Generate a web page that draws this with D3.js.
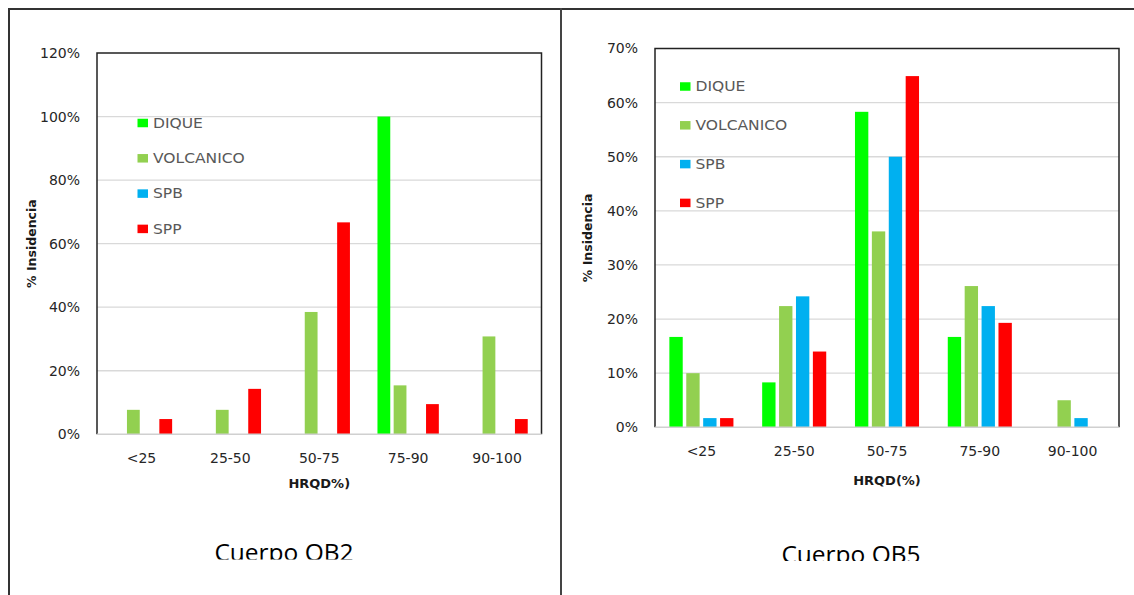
<!DOCTYPE html>
<html>
<head>
<meta charset="utf-8">
<script src="https://cdn.jsdelivr.net/npm/d3@7"></script>
<style>
  html, body { margin: 0; padding: 0; background: #fff; }
  svg { display: block; }
</style>
</head>
<body>
<svg id="chart" width="1134" height="595"></svg>
<script>
// Categories of HRQD (%) and the rock types plotted in each group
const categories = ["<25", "25-50", "50-75", "75-90", "90-100"];
const seriesNames = ["DIQUE", "VOLCANICO", "SPB", "SPP"];
const seriesColors = ["#00ff00", "#92d050", "#00b0f0", "#ff0000"];

// Cuerpo OB2 — % incidence per HRQD class
const ob2Dique     = [0, 0, 0, 100, 0];
const ob2Volcanico = [7.7, 7.7, 38.5, 15.4, 30.8];
const ob2Spb       = [0, 0, 0, 0, 0];
const ob2Spp       = [4.8, 14.3, 66.7, 9.5, 4.8];
const ob2Ticks     = [0, 20, 40, 60, 80, 100, 120];

// Cuerpo OB5 — % incidence per HRQD class
const ob5Dique     = [16.7, 8.3, 58.3, 16.7, 0];
const ob5Volcanico = [10.0, 22.4, 36.2, 26.1, 5.0];
const ob5Spb       = [1.7, 24.2, 50.0, 22.4, 1.7];
const ob5Spp       = [1.7, 14.0, 64.9, 19.3, 0];
const ob5Ticks     = [0, 10, 20, 30, 40, 50, 60, 70];

const svg = d3.select("#chart");
const W = 1134, H = 595;

svg.append("rect").attr("width", W).attr("height", H).attr("fill", "#fff");

const tickFont = "'DejaVu Sans', Verdana, sans-serif";

function drawPanel(p) {
  const g = svg.append("g");
  const series = p.series;

  const x0 = d3.scaleBand().domain(categories).range([p.left, p.right]).padding(0);
  const x1 = d3.scaleBand().domain(seriesNames).range([0, x0.bandwidth()])
    .paddingInner(0.21).paddingOuter(0.85);
  const y = d3.scaleLinear().domain([0, p.max]).range([p.bottom, p.top]);

  // horizontal gridlines
  g.append("g").selectAll("line").data(p.ticks.filter(t => t > 0 && t < p.max))
    .join("line")
    .attr("x1", p.left).attr("x2", p.right)
    .attr("y1", d => y(d)).attr("y2", d => y(d))
    .attr("stroke", "#d9d9d9").attr("stroke-width", 1.3);

  // y axis tick labels
  const yAxis = d3.axisLeft(y).tickValues(p.ticks).tickFormat(d => d + "%")
    .tickSize(0).tickPadding(17);
  const ya = g.append("g").attr("transform", `translate(${p.left},0)`).call(yAxis);
  ya.select(".domain").remove();
  ya.selectAll("text").attr("font-family", tickFont).attr("font-size", 14)
    .attr("fill", "#262626");

  // x axis category labels
  const xAxis = d3.axisBottom(x0).tickSize(0).tickPadding(19);
  const xa = g.append("g").attr("transform", `translate(0,${p.bottom})`).call(xAxis);
  xa.select(".domain").remove();
  xa.selectAll("text").attr("font-family", tickFont).attr("font-size", 14)
    .attr("fill", "#262626");

  // bars
  const rows = categories.map((c, i) => ({
    cat: c,
    vals: seriesNames.map((s, k) => ({ key: s, color: seriesColors[k], v: series[k][i] }))
  }));
  g.append("g").selectAll("g").data(rows).join("g")
    .attr("transform", d => `translate(${x0(d.cat)},0)`)
    .selectAll("rect").data(d => d.vals.filter(v => v.v > 0)).join("rect")
    .attr("x", d => x1(d.key))
    .attr("width", x1.bandwidth())
    .attr("y", d => y(d.v))
    .attr("height", d => y(0) - y(d.v))
    .attr("fill", d => d.color);

  // plot frame: dark top/left/right edges, light category baseline
  const frame = g.append("g").attr("fill", "none");
  frame.append("path")
    .attr("d", `M${p.left},${p.bottom}V${p.top}H${p.right}V${p.bottom}`)
    .attr("stroke", "#222").attr("stroke-width", 1.5);
  frame.append("line")
    .attr("x1", p.left).attr("x2", p.right)
    .attr("y1", p.bottom).attr("y2", p.bottom)
    .attr("stroke", "#d0d0d0").attr("stroke-width", 1.5);

  // legend (labels slightly widened)
  const lg = g.append("g");
  seriesNames.forEach((s, k) => {
    const cy = p.legendY + k * p.legendStep;
    lg.append("rect").attr("x", p.legendX).attr("y", cy - 4.25)
      .attr("width", 10.5).attr("height", 8.5).attr("fill", seriesColors[k]);
    lg.append("text")
      .attr("transform", `translate(${p.legendX + 15.5},${cy}) scale(1.15,1)`)
      .attr("dy", "0.36em")
      .attr("font-family", tickFont).attr("font-size", 13.5)
      .attr("fill", "#595959").text(s);
  });

  // axis titles
  g.append("text")
    .attr("transform", `translate(${p.yTitleX},${(p.top + p.bottom) / 2}) rotate(-90)`)
    .attr("text-anchor", "middle").attr("dy", "0.36em")
    .attr("font-family", tickFont).attr("font-weight", "bold").attr("font-size", 12.5)
    .attr("fill", "#1a1a1a").text("% Insidencia");
  g.append("text")
    .attr("x", (p.left + p.right) / 2).attr("y", p.xTitleY)
    .attr("text-anchor", "middle").attr("dy", "0.36em")
    .attr("font-family", tickFont).attr("font-weight", "bold").attr("font-size", 13)
    .attr("fill", "#1a1a1a").text(p.xTitle);

  // caption, cut at its baseline by the panel edge
  const clipId = "clip-" + p.id;
  svg.append("clipPath").attr("id", clipId)
    .append("rect").attr("x", 0).attr("y", 0).attr("width", W).attr("height", p.captionClip);
  g.append("text")
    .attr("clip-path", `url(#${clipId})`)
    .attr("x", p.captionX).attr("y", p.captionY)
    .attr("text-anchor", "middle")
    .attr("font-family", "'Open Sans', 'Noto Sans', sans-serif").attr("font-size", 24.5)
    .attr("fill", "#000").text(p.caption);
}

drawPanel({
  id: "ob2",
  series: [ob2Dique, ob2Volcanico, ob2Spb, ob2Spp],
  ticks: ob2Ticks, max: 120,
  left: 97, right: 541.5, top: 53, bottom: 434.3,
  legendX: 137.5, legendY: 123, legendStep: 35.3,
  yTitleX: 31, xTitleY: 483.5, xTitle: "HRQD%)",
  caption: "Cuerpo OB2", captionX: 284, captionY: 561, captionClip: 559.5
});

drawPanel({
  id: "ob5",
  series: [ob5Dique, ob5Volcanico, ob5Spb, ob5Spp],
  ticks: ob5Ticks, max: 70,
  left: 655, right: 1119, top: 48.5, bottom: 427.3,
  legendX: 680, legendY: 86.5, legendStep: 38.8,
  yTitleX: 587, xTitleY: 480, xTitle: "HRQD(%)",
  caption: "Cuerpo OB5", captionX: 851, captionY: 562.5, captionClip: 561
});

// outer page frame around the two panels
const outer = svg.append("g").attr("stroke", "#333").attr("stroke-width", 2).attr("fill", "none");
outer.append("line").attr("x1", 8).attr("x2", W).attr("y1", 9).attr("y2", 9);
outer.append("line").attr("x1", 9).attr("x2", 9).attr("y1", 8).attr("y2", H);
outer.append("line").attr("x1", 561).attr("x2", 561).attr("y1", 8).attr("y2", H)
  .attr("stroke", "#444");
</script>
</body>
</html>
